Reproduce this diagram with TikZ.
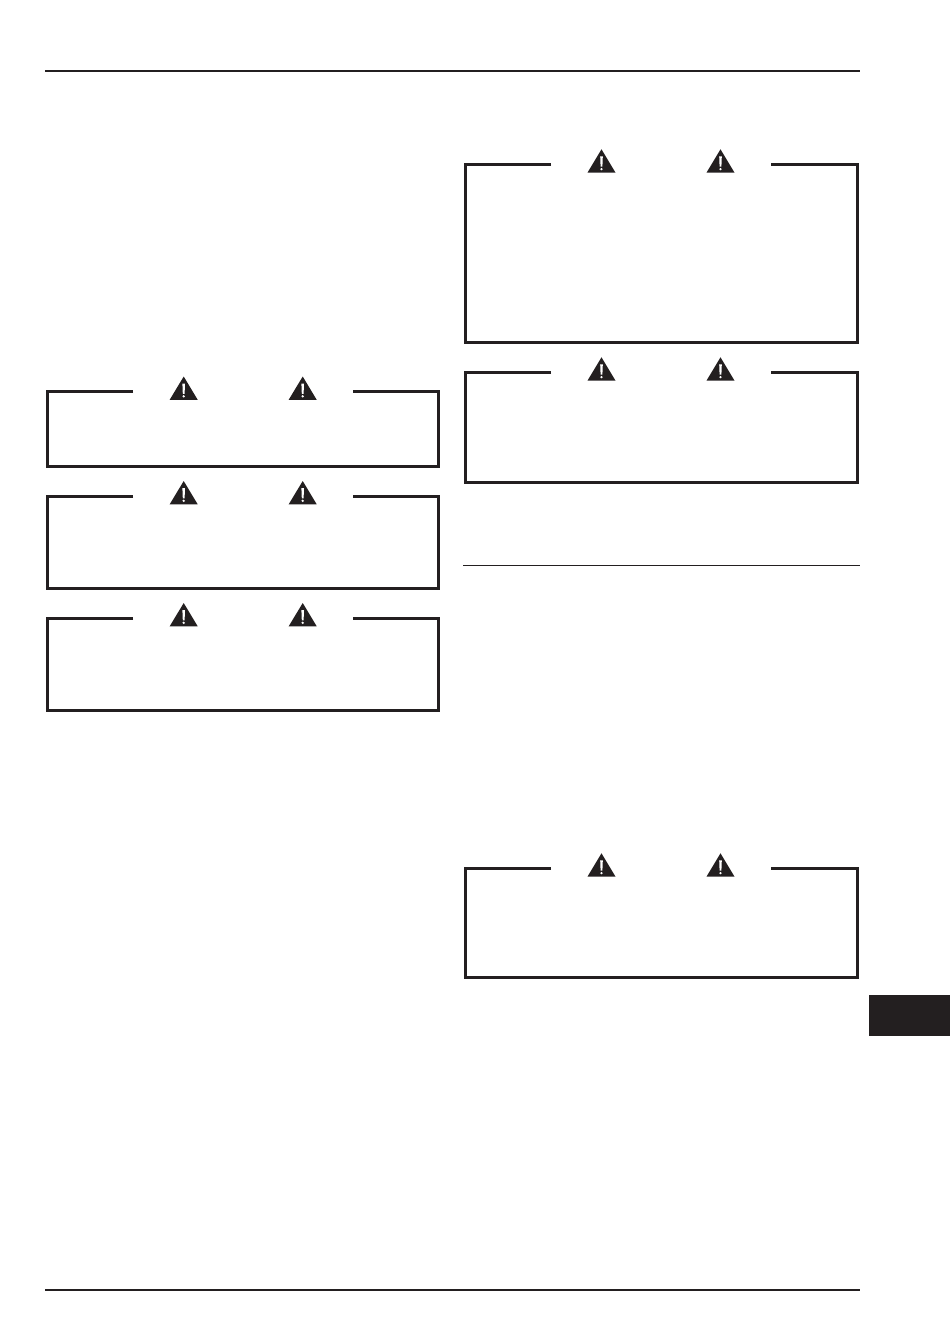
\documentclass[tikz,border=0pt]{standalone}
\usepackage{xcolor}
\usepackage{tikz}
\definecolor{inkblack}{HTML}{231F20}
\tikzset{
  rulethick/.style={draw=inkblack,line width=2.8pt},
  boxline/.style={draw=inkblack,line width=3pt,line cap=butt,line join=miter},
  warnsign/.style={fill=inkblack,draw=none},
  warnmark/.style={fill=white,draw=none}
}
\begin{document}
\begin{tikzpicture}[x=1pt,y=-1pt]
\useasboundingbox (0,0) rectangle (950,1344);

  % page rules
  \coordinate (TL) at (45,71);
  \coordinate (TR) at (860,71);
  \coordinate (BL) at (45,1290);
  \coordinate (BR) at (860,1290);
  \coordinate (ML) at (463,565.5);
  \coordinate (MR) at (860,565.5);
  \draw[rulethick] (TL) -- (TR);
  \draw[draw=inkblack,line width=2.2pt] (BL) -- (BR);
  \draw[draw=inkblack,line width=1pt] (ML) -- (MR);

  % chapter tab
  \fill[inkblack] (868.5,995) rectangle (950,1036);

  % warning boxes: left, width, top, bottom
  \foreach \x/\w/\t/\b in {47.5/391.3/391.5/466.3, 47.5/391.3/496/588.3, 47.5/391.3/618/710.3,
                        465.3/392/164.3/342.3, 465.3/392/372.3/482.3, 465.3/392/868.3/977.3} {
    \draw[boxline] (\x+85.7,\t) -- (\x,\t) -- (\x,\b) -- (\x+\w,\b)
                   -- (\x+\w,\t) -- (\x+\w-86,\t);
    % the two signs
    \foreach \d in {136.2,255.2} {
      \fill[warnsign] (\x+\d,\t-15) -- (\x+\d+14,\t+8.3) -- (\x+\d-14,\t+8.3) -- cycle;
      \fill[warnmark] (\x+\d-1.3,\t-8) -- (\x+\d+1.3,\t-8) -- (\x+\d+0.9,\t+2.3) -- (\x+\d-0.9,\t+2.3) -- cycle;
      \fill[warnmark] (\x+\d,\t+4.8) circle (1.3);
    }
  }

\end{tikzpicture}
\end{document}
